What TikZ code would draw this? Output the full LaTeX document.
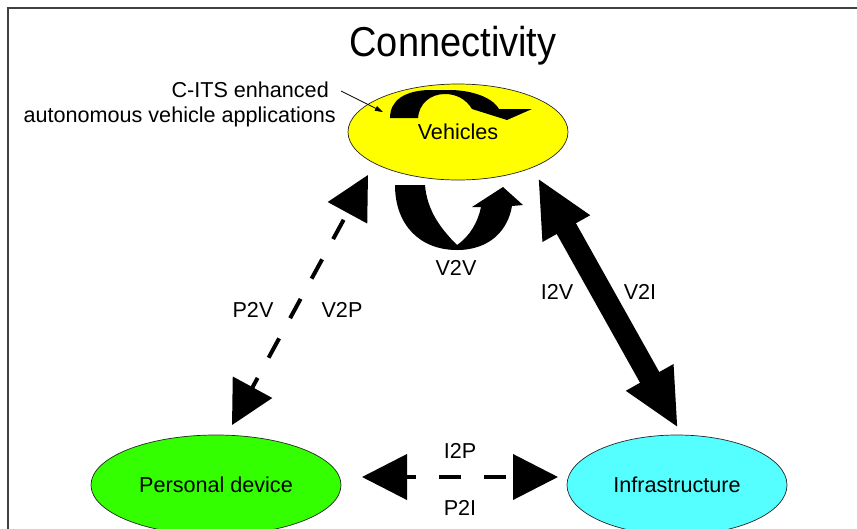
\documentclass[tikz,border=0pt]{standalone}
\usepackage{fontspec}
\setmainfont{Liberation Sans}
\usetikzlibrary{arrows.meta,shapes.geometric}
\definecolor{vyellow}{HTML}{FFFF00}
\definecolor{pgreen}{HTML}{33FF00}
\definecolor{icyan}{HTML}{55FFFF}
\definecolor{frame}{HTML}{404040}
\begin{document}
\begin{tikzpicture}[x=1pt,y=-1pt,
  lbl/.style={font=\fontsize{21.6}{24}\selectfont, inner sep=0pt},
  bubble/.style={ellipse, draw=black!85, line width=0.7pt, inner sep=0pt, font=\fontsize{21.6}{24}\selectfont},
  bigarrow/.style={line width=22pt, {Triangle[length=58pt,width=50pt]}-{Triangle[length=58pt,width=50pt]}},
  dasharrow/.style={line width=4pt, dash pattern=on 22pt off 23pt},
  blob/.style={fill=black}]
\useasboundingbox (0,0) rectangle (857,528);
\clip (0,0) rectangle (857,528);
\fill[white] (0,0) rectangle (857,528);
% frame
\draw[frame, line width=2pt] (8,540) -- (8,8) -- (870,8);
% title
\node[font=\fontsize{38}{40}\selectfont, inner sep=0pt] (title) at (453,46) {\scalebox{1}[1.1]{Connectivity}};
% ellipses
\node[bubble, fill=vyellow, minimum width=220pt, minimum height=96pt] (veh) at (458,132) {Vehicles};
\node[bubble, fill=pgreen, minimum width=250pt, minimum height=100pt] (per) at (216,485) {Personal device};
\node[bubble, fill=icyan, minimum width=220pt, minimum height=100pt] (inf) at (677,485) {Infrastructure};
% annotation
\node[lbl, anchor=east] (cits) at (329,90) {C-ITS enhanced};
\node[lbl, anchor=east] (auto) at (336,117) {autonomous vehicle applications};
\coordinate (annend) at (383,112);
\draw[line width=0.7pt, -{Triangle[length=8pt,width=5pt]}] ([xshift=12pt,yshift=-1pt]cits.east) -- (annend);
% curved arrow inside vehicles (top)
\fill[blob] (390,118) .. controls (390,100) and (405,91) .. (428,90)
  -- (452,90)
  .. controls (478,91) and (494,100) .. (499,109)
  -- (532,109) -- (507,120) -- (472,109)
  .. controls (466,99) and (456,94) .. (445,94)
  .. controls (430,94) and (419,104) .. (418,118) -- cycle;
% V2V curved arrow (below)
\fill[blob] (395,185) .. controls (395,225) and (420,250) .. (457,250)
  .. controls (490,250) and (508,230) .. (512,206)
  -- (523,205) -- (503,187) -- (472,207) -- (481,207)
  .. controls (478,222) and (470,236) .. (457,245)
  .. controls (440,228) and (427,210) .. (425,185) -- cycle;
\node[lbl] (v2v) at (456,268) {V2V};
% V2I / I2V thick arrow
\coordinate (vtipI) at (538,178);
\coordinate (itipV) at (678,428);
\draw[bigarrow] (vtipI) -- (itipV);
\node[lbl] (i2v) at (557,292) {I2V};
\node[lbl] (v2i) at (640,292) {V2I};
% P2V / V2P dashed arrow
\coordinate (vtipP) at (368,175);
\coordinate (ptipV) at (232,425);
\draw[dasharrow, dash phase=36pt, {Triangle[length=43pt,width=44pt]}-{Triangle[length=43pt,width=44pt]}] (vtipP) -- (ptipV);
\node[lbl] (p2v) at (253,310) {P2V};
\node[lbl] (v2p) at (342,310) {V2P};
% I2P / P2I dashed arrow
\coordinate (ptipI) at (362,477);
\coordinate (itipP) at (558,477);
\draw[dasharrow, dash phase=12pt, {Triangle[length=45pt,width=45pt]}-{Triangle[length=45pt,width=45pt]}] (ptipI) -- (itipP);
\node[lbl] (i2p) at (460,451) {I2P};
\node[lbl] (p2i) at (460,508) {P2I};
\end{tikzpicture}
\end{document}
